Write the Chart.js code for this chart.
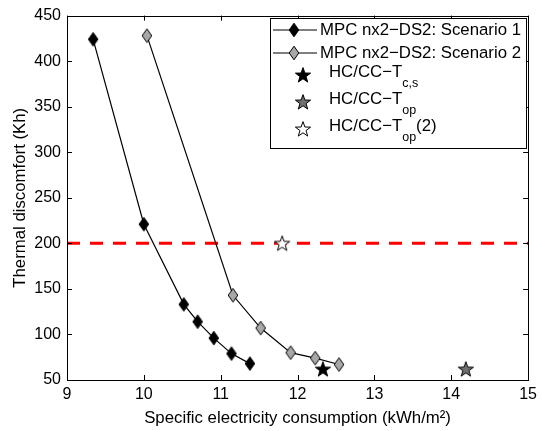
<!DOCTYPE html>
<html>
<head>
<meta charset="utf-8">
<script src="https://cdn.jsdelivr.net/npm/chart.js@4"></script>
<style>
  body { margin: 0; background: #fff; }
  #wrap { width: 542px; height: 431px; position: relative; }
</style>
</head>
<body>
<div id="wrap"><canvas id="chart"></canvas></div>
<script>
// ===== DATA =====
const xTicks = [9, 10, 11, 12, 13, 14, 15];
const yTicks = [50, 100, 150, 200, 250, 300, 350, 400, 450];

const scen1X = [9.34, 10.0, 10.52, 10.70, 10.91, 11.14, 11.38];
const scen1Y = [424, 221, 133, 114, 96, 79, 68];

const scen2X = [10.04, 11.16, 11.52, 11.91, 12.23, 12.54];
const scen2Y = [428, 143, 107, 80, 74, 67];

const tcsX = [12.33];
const tcsY = [62];
const topX = [14.19];
const topY = [62];
const top2X = [11.80];
const top2Y = [200];

const limitX = [9, 15];
const limitY = [200, 200];

const FONT = "'Liberation Sans', Arial, sans-serif";

function toPoints(xs, ys) {
    return xs.map((x, i) => ({ x: x, y: ys[i] }));
}

// ===== MARKERS =====
function makeDiamond(fill) {
    const c = document.createElement('canvas');
    c.width = 12; c.height = 16;
    const g = c.getContext('2d');
    g.beginPath();
    g.moveTo(6, 1.2);
    g.lineTo(10.8, 8);
    g.lineTo(6, 14.8);
    g.lineTo(1.2, 8);
    g.closePath();
    g.fillStyle = fill;
    g.fill();
    g.lineWidth = 1;
    g.strokeStyle = '#000';
    g.stroke();
    return c;
}

function makeStar(fill) {
    const c = document.createElement('canvas');
    c.width = 18; c.height = 18;
    const g = c.getContext('2d');
    const cx = 9, cy = 9.6, ro = 8, ri = 3.2;
    g.beginPath();
    for (let i = 0; i < 10; i++) {
        const r = i % 2 === 0 ? ro : ri;
        const a = -Math.PI / 2 + i * Math.PI / 5;
        const px = cx + r * Math.cos(a), py = cy + r * Math.sin(a);
        if (i === 0) g.moveTo(px, py); else g.lineTo(px, py);
    }
    g.closePath();
    g.fillStyle = fill;
    g.fill();
    g.lineWidth = 1;
    g.strokeStyle = '#000';
    g.stroke();
    return c;
}

const diamondBlack = makeDiamond('#000');
const diamondGray = makeDiamond('#a8a8a8');
const starBlack = makeStar('#000');
const starGray = makeStar('#707070');
const starWhite = makeStar('#fff');

// ===== FRAME + INWARD TICKS (matlab style) =====
const framePlugin = {
    id: 'frame',
    afterDatasetsDraw(chart) {
        const { ctx, chartArea: a, scales: { x, y } } = chart;
        ctx.save();
        ctx.strokeStyle = '#000';
        ctx.lineWidth = 1;
        ctx.beginPath();
        xTicks.forEach(v => {
            const px = Math.round(x.getPixelForValue(v)) + 0.5;
            ctx.moveTo(px, a.bottom); ctx.lineTo(px, a.bottom - 5);
            ctx.moveTo(px, a.top); ctx.lineTo(px, a.top + 5);
        });
        yTicks.forEach(v => {
            const py = Math.round(y.getPixelForValue(v)) + 0.5;
            ctx.moveTo(a.left, py); ctx.lineTo(a.left + 5, py);
            ctx.moveTo(a.right, py); ctx.lineTo(a.right - 5, py);
        });
        ctx.stroke();
        ctx.strokeRect(Math.round(a.left) + 0.5, Math.round(a.top) + 0.5,
            Math.round(a.right - a.left), Math.round(a.bottom - a.top));
        ctx.restore();
    }
};

// ===== LEGEND WITH SUBSCRIPTS =====
const legendRows = [
    { marker: diamondBlack, line: true, text: 'MPC nx2\u2212DS2: Scenario 1', sub: '', tail: '' },
    { marker: diamondGray, line: true, text: 'MPC nx2\u2212DS2: Scenario 2', sub: '', tail: '' },
    { marker: starBlack, line: false, text: 'HC/CC\u2212T', sub: 'c,s', tail: '' },
    { marker: starGray, line: false, text: 'HC/CC\u2212T', sub: 'op', tail: '' },
    { marker: starWhite, line: false, text: 'HC/CC\u2212T', sub: 'op', tail: '(2)' }
];
const legendRowY = [30, 53, 75, 102, 129];

const legendPlugin = {
    id: 'subLegend',
    afterDraw(chart) {
        const { ctx } = chart;
        const left = 270.5, top = 18.5, w = 256, h = 130;
        ctx.save();
        ctx.fillStyle = '#fff';
        ctx.fillRect(left, top, w, h);
        ctx.strokeStyle = '#000';
        ctx.lineWidth = 1;
        ctx.strokeRect(left, top, w, h);
        legendRows.forEach((row, i) => {
            const cy = legendRowY[i];
            if (row.line) {
                ctx.beginPath();
                ctx.lineWidth = 1.2;
                ctx.moveTo(273, cy); ctx.lineTo(317, cy);
                ctx.stroke();
                ctx.drawImage(row.marker, 294 - row.marker.width / 2, cy - row.marker.height / 2);
            } else {
                ctx.drawImage(row.marker, 303 - row.marker.width / 2, cy - row.marker.height / 2);
            }
            const tx = row.line ? 320 : 329;
            const ty = row.sub ? cy - 3 : cy;
            ctx.fillStyle = '#000';
            ctx.textBaseline = 'middle';
            ctx.textAlign = 'left';
            ctx.font = '16.8px ' + FONT;
            ctx.fillText(row.text, tx, ty);
            let cx = tx + ctx.measureText(row.text).width;
            if (row.sub) {
                ctx.font = '12.5px ' + FONT;
                ctx.fillText(row.sub, cx, ty + 12);
                cx += ctx.measureText(row.sub).width;
            }
            if (row.tail) {
                ctx.font = '16.8px ' + FONT;
                ctx.fillText(row.tail, cx, ty);
            }
        });
        ctx.restore();
    }
};

// ===== CHART =====
new Chart(document.getElementById('chart'), {
    type: 'scatter',
    data: {
        datasets: [
            {
                label: 'MPC nx2-DS2: Scenario 1',
                data: toPoints(scen1X, scen1Y),
                showLine: true,
                borderColor: '#000',
                borderWidth: 1.2,
                pointStyle: diamondBlack,
                tension: 0
            },
            {
                label: 'MPC nx2-DS2: Scenario 2',
                data: toPoints(scen2X, scen2Y),
                showLine: true,
                borderColor: '#000',
                borderWidth: 1.2,
                pointStyle: diamondGray,
                tension: 0
            },
            {
                label: 'HC/CC-Tc,s',
                data: toPoints(tcsX, tcsY),
                pointStyle: starBlack
            },
            {
                label: 'HC/CC-Top',
                data: toPoints(topX, topY),
                pointStyle: starGray
            },
            {
                label: 'HC/CC-Top(2)',
                data: toPoints(top2X, top2Y),
                pointStyle: starWhite
            },
            {
                label: 'limit',
                data: toPoints(limitX, limitY),
                showLine: true,
                borderColor: '#ff0000',
                borderWidth: 3,
                borderDash: [13, 10],
                pointRadius: 0
            }
        ]
    },
    options: {
        responsive: true,
        maintainAspectRatio: false,
        animation: false,
        layout: { padding: { top: 12, right: 9, left: 0, bottom: 0 } },
        plugins: {
            legend: { display: false },
            tooltip: { enabled: false }
        },
        scales: {
            x: {
                type: 'linear',
                min: 9,
                max: 15,
                afterFit: s => { s.height = 51; },
                afterBuildTicks: s => { s.ticks = xTicks.map(v => ({ value: v })); },
                grid: { display: false, drawTicks: false },
                border: { display: false },
                ticks: {
                    color: '#000',
                    padding: 5,
                    font: { family: FONT, size: 16 }
                },
                title: {
                    display: true,
                    text: 'Specific electricity consumption (kWh/m\u00B2)',
                    color: '#000',
                    font: { family: FONT, size: 16.8 },
                    padding: { top: 0, bottom: 3 }
                }
            },
            y: {
                type: 'linear',
                min: 50,
                max: 450,
                afterFit: s => { s.width = 67; },
                afterBuildTicks: s => { s.ticks = yTicks.map(v => ({ value: v })); },
                grid: { display: false, drawTicks: false },
                border: { display: false },
                ticks: {
                    color: '#000',
                    padding: 6,
                    font: { family: FONT, size: 16 }
                },
                title: {
                    display: true,
                    text: 'Thermal discomfort (Kh)',
                    color: '#000',
                    font: { family: FONT, size: 16.8 },
                    padding: { top: 10, bottom: 0 }
                }
            }
        }
    },
    plugins: [framePlugin, legendPlugin]
});
</script>
</body>
</html>
